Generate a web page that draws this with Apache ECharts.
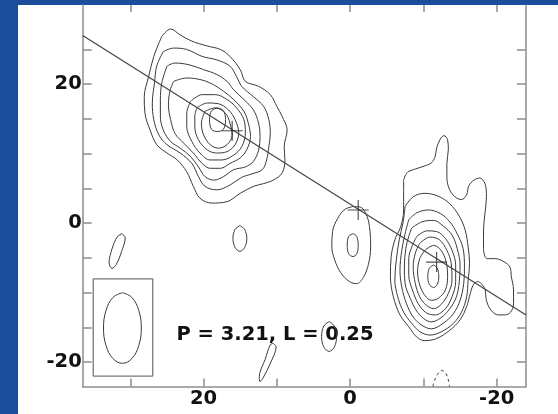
<!DOCTYPE html>
<html>
<head>
<meta charset="utf-8">
<script src="https://cdn.jsdelivr.net/npm/echarts@6/dist/echarts.min.js"></script>
<style>
  html, body { margin:0; padding:0; }
  body { width:558px; height:414px; background:#1c4c9c; position:relative; overflow:hidden; }
  #panel { position:absolute; left:18px; top:5px; width:540px; height:409px; background:#fff; }
  #chart { position:absolute; left:0; top:0; width:558px; height:414px; }
</style>
</head>
<body>
<div id="panel"></div>
<div id="chart"></div>
<script>
// ---- axis ticks / labels (relative arcsec) ----
const xTicks = [30, 20, 10, 0, -10, -20];
const xLabels = [20, 0, -20];
const yTicks = [25, 20, 15, 10, 5, 0, -5, -10, -15, -20];
const yLabels = [20, 0, -20];
const annotation = 'P = 3.21, L = 0.25';

// ---- fitted jet axis ----
const axisLine = [[36.5, 27.0], [-24, -13.2]];

// ---- component positions (crosses) ----
const crosses = [[16.1, 13.3], [-1.1, 1.9], [-11.8, -5.6]];

// ---- north-east lobe contours (outer to inner) ----
const neC1 = [[25.7,26.9],[24.5,27.95],[23.2,27.1],[21.6,26.2],[19.5,25.5],[17.7,25.0],[16.4,24.0],[15.0,22.1],[14.3,20.4],[12.5,19.7],[10.9,18.5],[10.0,16.8],[9.3,15.4],[8.6,13.4],[9.0,11.0],[8.9,9.1],[9.3,7.2],[10.5,6.2],[11.8,5.7],[13.2,5.3],[15.0,4.3],[16.8,3.1],[18.9,2.9],[20.5,3.6],[21.4,5.3],[22.3,7.4],[23.6,9.1],[25.0,10.1],[26.4,11.3],[27.3,13.4],[28.0,15.8],[28.1,18.2],[27.5,21.1],[26.8,24.0],[26.1,25.9]];
const neC2 = [[25.5,24.7],[24.1,25.2],[22.3,25.0],[20.2,24.0],[18.2,23.5],[16.4,22.6],[15.5,21.1],[14.8,19.7],[13.2,18.2],[11.8,16.8],[11.1,14.9],[10.9,12.9],[11.1,11.0],[11.4,9.1],[12.0,7.7],[13.4,7.1],[14.8,6.6],[16.4,5.5],[18.2,4.8],[19.8,5.3],[20.7,6.7],[21.6,8.6],[23.2,10.1],[25.0,11.3],[26.1,12.7],[26.8,14.9],[27.0,17.3],[26.7,20.2],[26.4,22.6]];
const neC3 = [[25.0,22.6],[23.9,23.05],[22.0,22.8],[20.0,22.1],[18.2,21.4],[16.8,20.4],[15.9,19.2],[14.5,17.8],[13.2,16.3],[12.5,14.4],[12.3,12.5],[12.5,10.5],[13.2,8.9],[14.3,8.1],[15.9,7.7],[17.3,6.7],[18.6,6.2],[19.8,6.7],[20.7,8.1],[21.8,9.6],[23.2,10.8],[24.5,11.75],[25.5,13.4],[25.9,15.4],[25.9,17.8],[25.7,20.2]];
const neC4 = [[24.1,20.4],[22.3,20.9],[20.2,20.6],[18.6,19.9],[17.3,19.0],[15.9,17.8],[14.5,16.1],[13.9,14.4],[13.6,12.5],[14.1,10.6],[15.0,9.4],[16.4,8.6],[17.7,7.9],[19.1,7.9],[20.2,8.6],[21.4,10.1],[22.7,11.5],[23.9,12.9],[24.5,14.9],[24.8,17.0],[24.6,19.0]];
const neC5 = [[21.8,17.5],[20.2,18.5],[18.4,18.5],[16.8,17.8],[15.5,16.6],[14.5,14.9],[14.3,13.0],[14.8,11.0],[15.9,9.8],[17.5,9.1],[19.1,9.1],[20.5,10.1],[21.6,11.75],[22.3,13.9],[22.3,15.8]];
const neC6 = [[20.9,16.6],[19.5,17.3],[18.0,17.2],[16.6,16.3],[15.7,14.9],[15.2,13.0],[15.7,11.3],[16.8,10.3],[18.2,10.1],[19.5,10.55],[20.7,12.0],[21.2,13.9],[21.2,15.4]];
const neC7 = [[19.8,16.1],[18.4,16.6],[17.0,15.8],[16.4,14.4],[16.1,12.7],[16.8,11.3],[18.0,10.8],[19.1,11.3],[20.0,12.7],[20.3,14.4]];
const neC8 = [[18.1,16.6],[17.3,16.2],[17.0,14.9],[17.3,13.5],[18.1,13.2],[18.9,13.5],[19.2,14.9],[18.9,16.2]];

// ---- south-west lobe contours (outer to inner) ----
const swC1 = [[-7.3,6.2],[-7.8,7.3],[-8.9,7.8],[-10.2,8.25],[-11.1,8.7],[-11.6,9.6],[-11.8,10.8],[-12.3,12.1],[-12.8,12.6],[-13.3,12.0],[-13.4,10.6],[-13.2,8.6],[-13.2,6.7],[-13.5,5.0],[-14.3,3.8],[-15.2,3.4],[-15.9,4.1],[-16.2,5.4],[-16.9,6.2],[-17.7,6.5],[-18.4,5.7],[-18.6,3.8],[-18.4,1.4],[-18.2,-1.0],[-18.2,-3.6],[-18.7,-5.1],[-19.8,-5.1],[-21.0,-5.55],[-21.8,-6.3],[-22.0,-7.7],[-22.3,-9.6],[-22.3,-11.6],[-21.9,-12.8],[-21.1,-13.2],[-20.2,-13.2],[-19.2,-12.5],[-18.6,-11.1],[-18.4,-9.5],[-17.9,-8.7],[-17.4,-8.4],[-16.8,-8.9],[-16.4,-10.1],[-15.9,-12.0],[-15.0,-13.9],[-13.6,-15.4],[-11.8,-16.6],[-10.2,-16.9],[-9.1,-16.4],[-8.0,-14.9],[-6.8,-13.2],[-5.9,-10.6],[-5.5,-7.7],[-5.6,-4.8],[-6.1,-2.4],[-6.9,-0.5],[-7.3,1.9],[-7.3,4.3]];
const swC2 = [[-7.5,2.4],[-8.6,3.8],[-10.2,4.3],[-12.0,3.9],[-13.6,2.8],[-14.9,1.0],[-15.7,-1.0],[-16.1,-3.4],[-16.3,-5.8],[-16.1,-8.2],[-15.9,-10.6],[-15.2,-12.8],[-14.1,-14.4],[-12.5,-15.6],[-10.9,-16.1],[-9.5,-15.6],[-8.4,-14.4],[-7.3,-12.8],[-6.5,-10.6],[-6.1,-8.2],[-6.3,-5.3],[-6.7,-2.4],[-7.2,0.0]];
const swC3 = [[-8.0,0.5],[-9.1,1.5],[-10.7,1.9],[-12.3,1.4],[-13.6,0.2],[-14.6,-1.5],[-15.4,-3.6],[-15.6,-6.3],[-15.5,-8.7],[-15.0,-11.1],[-14.1,-13.0],[-12.7,-14.4],[-11.1,-15.2],[-9.8,-14.7],[-8.6,-13.5],[-7.7,-11.6],[-7.05,-9.2],[-6.8,-6.8],[-7.05,-3.9],[-7.5,-1.5]];
const swC4 = [[-8.4,-0.7],[-9.8,0.2],[-11.4,0.4],[-12.7,-0.4],[-13.9,-1.7],[-14.6,-3.6],[-15.0,-6.0],[-14.9,-8.4],[-14.5,-10.6],[-13.6,-12.3],[-12.4,-13.6],[-11.1,-14.2],[-10.0,-13.7],[-9.0,-12.5],[-8.2,-10.8],[-7.5,-8.7],[-7.4,-6.3],[-7.6,-3.6],[-8.0,-1.9]];
const swC5 = [[-9.1,-1.9],[-10.5,-1.1],[-11.8,-1.2],[-13.0,-2.2],[-13.9,-3.9],[-14.4,-6.0],[-14.4,-8.4],[-13.9,-10.6],[-13.0,-12.3],[-11.6,-13.2],[-10.4,-12.9],[-9.3,-11.6],[-8.5,-9.6],[-8.0,-7.5],[-8.0,-5.1],[-8.5,-3.2]];
const swC6 = [[-9.5,-2.9],[-10.9,-2.0],[-12.2,-2.4],[-13.2,-3.9],[-13.8,-5.8],[-13.9,-8.2],[-13.4,-10.1],[-12.5,-11.6],[-11.4,-12.3],[-10.4,-11.8],[-9.5,-10.6],[-8.9,-8.7],[-8.6,-6.3],[-8.9,-4.3]];
const swC7 = [[-10.2,-3.9],[-11.4,-3.2],[-12.4,-3.9],[-13.1,-5.55],[-13.3,-7.7],[-13.0,-9.6],[-12.05,-10.8],[-11.1,-11.1],[-10.2,-10.4],[-9.5,-8.9],[-9.2,-7.0],[-9.5,-5.1]];
const swC8 = [[-11.4,-6.0],[-11.9,-6.5],[-12.1,-7.7],[-11.9,-8.8],[-11.4,-9.25],[-10.8,-8.8],[-10.6,-7.7],[-10.8,-6.5]];

// ---- core and isolated contours ----
const coreC1 = [[-0.45,2.4],[0.7,2.0],[1.7,0.7],[2.4,-1.2],[2.5,-3.4],[2.1,-5.3],[1.3,-7.1],[0.1,-8.4],[-0.9,-8.7],[-1.8,-7.8],[-2.5,-5.9],[-2.8,-3.4],[-2.7,-1.0],[-2.3,1.0],[-1.45,2.3]];
const coreC2 = [[-0.4,-1.5],[-0.9,-1.9],[-1.1,-3.2],[-0.9,-4.4],[-0.4,-4.8],[0.2,-4.4],[0.4,-3.2],[0.2,-1.9]];
const blobA = [[15.05,-0.35],[14.4,-0.9],[14.1,-2.2],[14.4,-3.5],[15.05,-4.05],[15.7,-3.5],[16.0,-2.2],[15.7,-0.9]];
const blobB = [[31.15,-1.5],[30.7,-2.1],[31.2,-4.1],[31.9,-5.9],[32.5,-6.5],[32.9,-5.7],[32.5,-3.7],[31.8,-2.0]];
const blobC = [[10.5,-17.3],[10.1,-17.8],[10.8,-19.95],[11.9,-22.3],[12.3,-22.8],[12.4,-22.1],[11.6,-19.6],[10.9,-17.5]];
const blobD = [[2.86,-14.15],[2.15,-14.8],[1.85,-16.3],[2.15,-17.8],[2.86,-18.45],[3.6,-17.8],[3.9,-16.3],[3.6,-14.8]];
const negArc = [[-11.3,-23.5],[-11.4,-23.0],[-11.9,-21.8],[-12.5,-21.2],[-13.1,-21.7],[-13.5,-23.0],[-13.55,-23.5]];

// ---- beam inset ----
const beamBox = [[35.06,-8.0],[26.94,-8.0],[26.94,-22.0],[35.06,-22.0],[35.06,-8.0]];
const beamEllipse = [[31.08,-10.0],[29.79,-10.68],[28.85,-12.54],[28.5,-15.08],[28.85,-17.62],[29.79,-19.48],[31.08,-20.16],[32.37,-19.48],[33.31,-17.62],[33.66,-15.08],[33.31,-12.54],[32.37,-10.68]];

const closedContours = [neC1,neC2,neC3,neC4,neC5,neC6,neC7,neC8,
                        swC1,swC2,swC3,swC4,swC5,swC6,swC7,swC8,
                        coreC1,coreC2,blobA,blobB,blobC,blobD];

const LINE = '#3a3a3a';
const AXIS = '#8d8d8d';
const FONT = 'DejaVu Sans';

const close = arr => arr.concat([arr[0]]);

const series = [];
closedContours.forEach(c => {
  series.push({
    type:'line', data: close(c), smooth: 0.35, symbol:'none', silent:true,
    lineStyle:{color:LINE, width:1}, z:3
  });
});
series.push({
  type:'line', data: negArc, smooth:0.4, symbol:'none', silent:true,
  lineStyle:{color:LINE, width:1, type:[3,3]}, z:3
});
series.push({
  type:'line', data: axisLine, symbol:'none', silent:true,
  lineStyle:{color:'#444', width:1.2}, z:4
});
series.push({
  type:'line', data: beamBox, symbol:'none', silent:true,
  lineStyle:{color:'#777', width:1.3}, z:4
});
series.push({
  type:'line', data: close(beamEllipse), smooth:0.4, symbol:'none', silent:true,
  lineStyle:{color:LINE, width:1}, z:4
});
series.push({
  type:'scatter', data: crosses, silent:true,
  symbol:'path://M0 10H20M10 0V20', symbolSize:[21,20],
  itemStyle:{color:'rgba(0,0,0,0)', borderColor:'#222', borderWidth:1.1}, z:5
});

const labelStyle = {color:'#111', fontFamily:FONT, fontWeight:'bold', fontSize:19.5};

const chart = echarts.init(document.getElementById('chart'), null, {renderer:'canvas'});
chart.setOption({
  animation:false,
  backgroundColor:'transparent',
  grid:{left:82.7, right:32, top:5, bottom:27.5, containLabel:false, outerBoundsMode:'none'},
  xAxis:[{
    type:'value', inverse:true, min:-24, max:36.5, position:'bottom',
    axisLine:{show:true, onZero:false, lineStyle:{color:AXIS, width:1.5}},
    axisTick:{show:true, inside:true, length:8, customValues:xTicks, lineStyle:{color:AXIS, width:1.5}},
    axisLabel:Object.assign({show:true, margin:2, customValues:xLabels}, labelStyle),
    splitLine:{show:false}
  },{
    type:'value', inverse:true, min:-24, max:36.5, position:'top',
    axisLine:{show:false, onZero:false},
    axisTick:{show:true, inside:true, length:7, customValues:xTicks, lineStyle:{color:AXIS, width:1.5}},
    axisLabel:{show:false}, splitLine:{show:false}
  }],
  yAxis:[{
    type:'value', min:-23.5, max:31.4, position:'left',
    axisLine:{show:true, onZero:false, lineStyle:{color:AXIS, width:1.5}},
    axisTick:{show:true, inside:true, length:9, customValues:yTicks, lineStyle:{color:AXIS, width:1.5}},
    axisLabel:Object.assign({show:true, margin:1, customValues:yLabels}, labelStyle),
    splitLine:{show:false}
  },{
    type:'value', min:-23.5, max:31.4, position:'right',
    axisLine:{show:true, onZero:false, lineStyle:{color:AXIS, width:1.5}},
    axisTick:{show:true, inside:true, length:9, customValues:yTicks, lineStyle:{color:AXIS, width:1.5}},
    axisLabel:{show:false}, splitLine:{show:false}
  }],
  graphic:[{
    type:'text', x:176.5, y:334.5, silent:true,
    style:{text:annotation, fill:'#111', font:'bold 19.5px "DejaVu Sans"', verticalAlign:'middle', align:'left'}
  }],
  series: series.map(s => Object.assign({xAxisIndex:0, yAxisIndex:0}, s))
});
</script>
</body>
</html>
